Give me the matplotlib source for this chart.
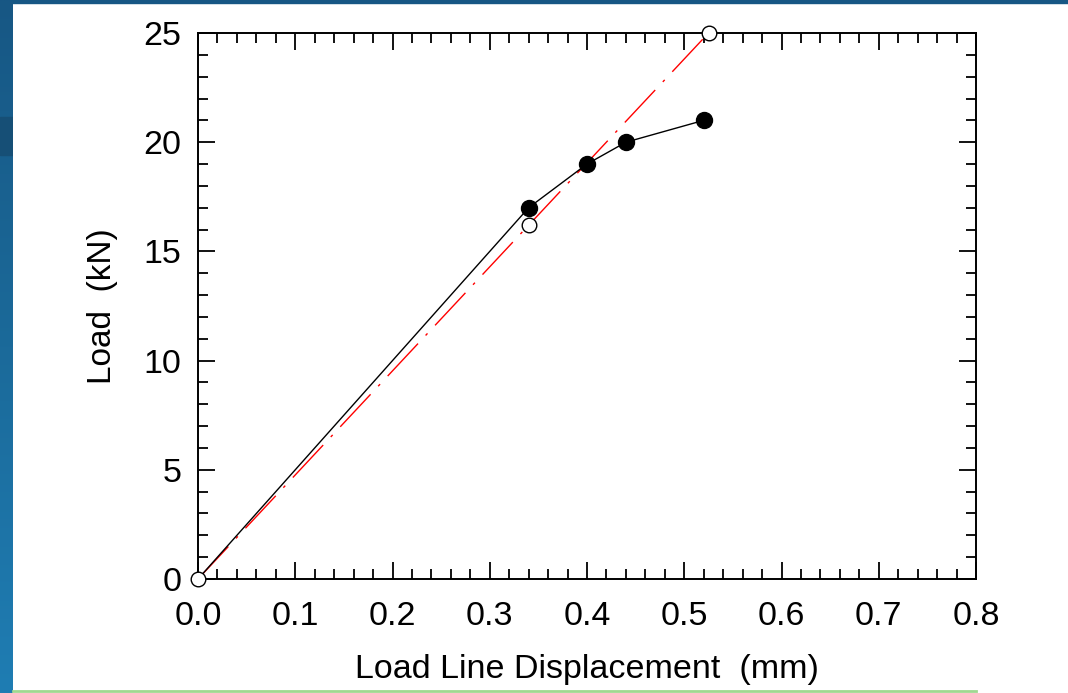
import numpy as np
import matplotlib.pyplot as plt
from matplotlib.patches import Rectangle
from matplotlib.lines import Line2D

# measured points (black, filled)
meas_x = [0.0, 0.34, 0.40, 0.44, 0.52]
meas_y = [0.0, 17.0, 19.0, 20.0, 21.0]

# linear reference (red, open circles)
lin_x = [0.0, 0.34, 0.525]
lin_y = [0.0, 16.2, 25.0]

x_ticks = [0.0, 0.1, 0.2, 0.3, 0.4, 0.5, 0.6, 0.7, 0.8]
y_ticks = [0, 5, 10, 15, 20, 25]

plt.rcParams['font.family'] = ['Liberation Sans', 'DejaVu Sans']

fig = plt.figure(figsize=(10.68, 6.93), dpi=100)
fig.patch.set_facecolor('white')

## slide background bits: blue strip on the left, top band, green rule at bottom
bg = fig.add_axes([0, 0, 13 / 1068, 1])
grad = np.linspace(0, 1, 256).reshape(-1, 1)
bg.imshow(grad, aspect='auto', cmap=plt.matplotlib.colors.LinearSegmentedColormap.from_list(
    'slide', ['#1f7db3', '#1b6a9a', '#175784']), extent=[0, 1, 0, 1], origin='lower')
bg.add_patch(Rectangle((0, 1 - 155 / 693), 1, 38 / 693, color='#164f76'))
bg.set_xlim(0, 1)
bg.set_ylim(0, 1)
bg.axis('off')
fig.add_artist(Rectangle((0, 1 - 3 / 693), 1, 3 / 693, transform=fig.transFigure,
                         color='#175784', zorder=0))
fig.add_artist(Line2D([13 / 1068, 976 / 1068], [2.5 / 693, 2.5 / 693], transform=fig.transFigure,
                      color='#9fd890', lw=2))

ax = fig.add_axes([198 / 1068, 1 - 579 / 693, 778 / 1068, 546 / 693])

ax.plot(lin_x, lin_y, color='red', lw=1, linestyle=(0, (32, 8, 2, 8)), zorder=2)
ax.plot(meas_x, meas_y, color='black', lw=1, zorder=3)
ax.plot(meas_x[1:], meas_y[1:], 'o', color='black', ms=11.5, zorder=4, clip_on=False)
ax.plot(lin_x, lin_y, 'o', mfc='white', mec='black', mew=1, ms=10.5, zorder=5, clip_on=False)

ax.set_xlim(0, 0.8)
ax.set_ylim(0, 25)
ax.set_xticks(x_ticks)
ax.set_yticks(y_ticks)
ax.set_xticklabels([f'{v:.1f}' for v in x_ticks])
ax.set_xticks(np.arange(0, 0.8001, 0.02), minor=True)
ax.set_yticks(np.arange(0, 25.001, 1), minor=True)
ax.tick_params(which='both', direction='in', top=True, right=True, width=1.3, colors='black')
ax.tick_params(which='major', length=12, labelsize=24.5)
ax.tick_params(which='minor', length=7)
ax.tick_params(axis='x', which='major', pad=16)
ax.tick_params(axis='y', which='major', pad=12)
for s in ax.spines.values():
    s.set_linewidth(1.4)

ax.set_xlabel('Load Line Displacement  (mm)', fontsize=24.5, labelpad=16)
ax.set_ylabel('Load  (kN)', fontsize=24, labelpad=18)

fig.savefig('out.png', dpi=100)
